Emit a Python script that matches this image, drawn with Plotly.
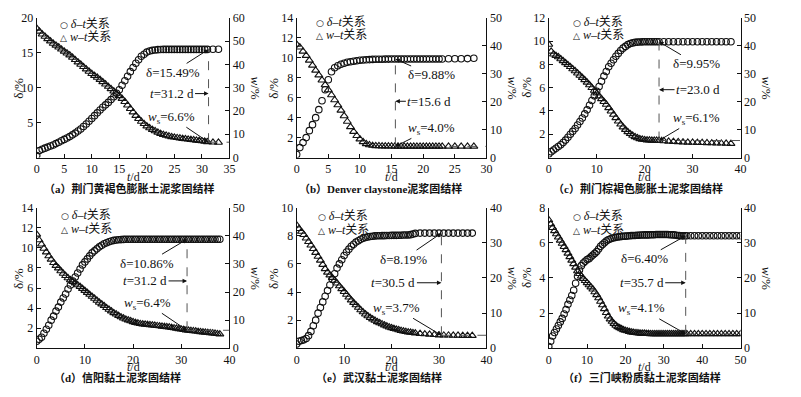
import plotly.graph_objects as go

# ---------------- data ----------------
T_A = [0, 0.5, 1, 1.5, 2, 2.5, 3, 3.5, 4, 4.5, 5, 5.5, 6, 6.5, 7, 7.5, 8, 8.5, 9, 9.5,
       10, 10.5, 11, 11.5, 12, 12.5, 13, 13.5, 14, 14.5, 15, 15.5, 16, 16.5, 17, 17.5, 18, 18.5, 19, 19.5,
       20, 20.5, 21, 21.5, 22, 22.5, 23, 23.5, 24, 24.5, 25, 25.5, 26, 26.5, 27, 27.5, 28, 28.5, 29, 29.5,
       30, 30.5, 31, 32, 33]
DELTA_A = [0.3, 1.0, 1.2, 1.35, 1.5, 1.65, 1.8, 2.0, 2.2, 2.4,
           2.6, 2.8, 3.0, 3.25, 3.5, 3.8, 4.1, 4.45, 4.8, 5.2,
           5.6, 6.0, 6.4, 6.8, 7.2, 7.55, 7.9, 8.3, 8.7, 9.2,
           9.7, 10.35, 11.0, 11.65, 12.3, 12.9, 13.5, 14.0, 14.5, 14.8,
           15.1, 15.25, 15.35, 15.4, 15.45, 15.47, 15.49, 15.49, 15.49, 15.49,
           15.49, 15.49, 15.49, 15.49, 15.49, 15.49, 15.49, 15.49, 15.49, 15.49,
           15.49, 15.49, 15.49, 15.5, 15.5]
W_A = [55.5, 54.2, 53.0, 52.0, 51.0, 50.0, 49.0, 48.2, 47.4, 46.5,
       45.6, 44.8, 44.0, 43.0, 42.0, 41.0, 40.0, 39.0, 38.0, 37.0,
       36.0, 35.2, 34.4, 33.5, 32.5, 31.5, 30.5, 29.5, 28.5, 27.5,
       26.5, 25.3, 24.0, 22.5, 21.0, 19.5, 18.0, 16.7, 15.5, 14.5,
       13.5, 12.7, 12.0, 11.4, 10.8, 10.3, 9.8, 9.5, 9.2, 8.9,
       8.7, 8.5, 8.3, 8.15, 8.0, 7.85, 7.7, 7.55, 7.4, 7.25,
       7.1, 6.95, 6.75, 6.55, 6.5]

T_B = [0, 0.5, 1, 1.5, 2, 2.5, 3, 3.5, 4, 4.5, 5, 5.5, 6, 6.5, 7, 7.5, 8, 8.5, 9, 9.5,
       10, 10.5, 11, 11.5, 12, 12.5, 13, 13.5, 14, 14.5, 15, 15.5, 16, 16.5, 17, 17.5, 18, 18.5, 19, 19.5,
       20, 20.5, 21, 21.5, 22, 22.5, 23, 24, 25, 26, 27, 28]
DELTA_B = [0.3, 1.0, 1.5, 2.0, 2.7, 3.3, 4.0, 4.8, 5.7, 6.8,
           7.8, 8.6, 9.0, 9.2, 9.35, 9.45, 9.55, 9.6, 9.65, 9.7,
           9.75, 9.78, 9.8, 9.82, 9.84, 9.85, 9.86, 9.86, 9.87, 9.87,
           9.88, 9.88, 9.88, 9.88, 9.88, 9.88, 9.88, 9.88, 9.88, 9.88,
           9.88, 9.88, 9.88, 9.88, 9.88, 9.88, 9.88, 9.9, 9.9, 9.9, 9.92, 9.95]
W_B = [40.5, 39.5, 38.0, 36.5, 34.8, 33.0, 31.2, 29.5, 27.7, 26.0,
       24.2, 22.4, 20.6, 18.8, 16.9, 14.9, 12.9, 11.0, 9.3, 7.8,
       6.6, 5.6, 4.9, 4.5, 4.3, 4.2, 4.15, 4.1, 4.1, 4.05,
       4.05, 4.0, 4.0, 4.0, 4.0, 4.0, 4.0, 4.0, 4.0, 4.0,
       4.0, 4.0, 4.0, 4.0, 4.0, 4.0, 4.0, 4.0, 4.0, 4.0, 4.0, 4.0]

T_C = [0, 0.5, 1, 1.5, 2, 2.5, 3, 3.5, 4, 4.5, 5, 5.5, 6, 6.5, 7, 7.5, 8, 8.5, 9, 9.5,
       10, 10.5, 11, 11.5, 12, 12.5, 13, 13.5, 14, 14.5, 15, 15.5, 16, 16.5, 17, 17.5, 18, 18.5, 19, 19.5,
       20, 20.5, 21, 21.5, 22, 22.5, 23,
       24, 25, 26, 27, 28, 29, 30, 31, 32, 33, 34, 35, 36, 37, 38]
DELTA_C = [0.3, 0.5, 0.65, 0.8, 0.95, 1.1, 1.3, 1.5, 1.75, 2.0,
           2.25, 2.5, 2.8, 3.1, 3.4, 3.75, 4.1, 4.5, 4.9, 5.3,
           5.7, 6.1, 6.55, 7.0, 7.4, 7.8, 8.1, 8.4, 8.7, 8.95,
           9.2, 9.4, 9.55, 9.7, 9.8, 9.85, 9.9, 9.92, 9.93, 9.94,
           9.95, 9.95, 9.95, 9.95, 9.95, 9.95, 9.95,
           9.95, 9.95, 9.95, 9.95, 9.95, 9.95, 9.95, 9.95, 9.95, 9.95, 9.95, 9.95, 9.95, 9.95, 9.95]
W_C = [40.5, 38.0, 37.0, 36.5, 36.0, 35.3, 34.6, 33.9, 33.2, 32.5,
       31.7, 31.0, 30.2, 29.4, 28.6, 27.8, 26.9, 26.0, 25.0, 24.0,
       23.0, 22.0, 21.0, 20.0, 19.0, 17.8, 16.6, 15.4, 14.2, 13.0,
       11.9, 10.9, 10.0, 9.2, 8.5, 7.9, 7.4, 7.0, 6.7, 6.5,
       6.35, 6.25, 6.2, 6.15, 6.12, 6.1, 6.1,
       5.95, 5.8, 5.7, 5.6, 5.5, 5.45, 5.4, 5.35, 5.3, 5.25, 5.2, 5.15, 5.1, 5.05, 5.0]

T_D = [0, 0.5, 1, 1.5, 2, 2.5, 3, 3.5, 4, 4.5, 5, 5.5, 6, 6.5, 7, 7.5, 8, 8.5, 9, 9.5,
       10, 10.5, 11, 11.5, 12, 12.5, 13, 13.5, 14, 14.5, 15, 15.5, 16, 16.5, 17, 17.5, 18, 18.5, 19, 19.5,
       20, 20.5, 21, 21.5, 22, 22.5, 23, 23.5, 24, 24.5, 25, 25.5, 26, 26.5, 27, 27.5, 28, 28.5, 29, 29.5,
       30, 30.5, 31, 31.5, 32, 32.5, 33, 33.5, 34, 34.5, 35, 35.5, 36, 36.5, 37, 37.5, 38]
DELTA_D = [0.7, 0.9, 1.1, 1.5, 1.9, 2.3, 2.8, 3.2, 3.7, 4.1,
           4.6, 5.0, 5.4, 5.9, 6.3, 6.7, 7.1, 7.5, 7.9, 8.3,
           8.6, 8.9, 9.2, 9.5, 9.7, 9.9, 10.1, 10.25, 10.4, 10.5,
           10.6, 10.68, 10.74, 10.78, 10.8, 10.82, 10.84, 10.85, 10.86, 10.86] + [10.86] * 37
W_D = [40.5, 38.5, 37.0, 35.5, 34.2, 32.8, 31.6, 30.4, 29.4, 28.5,
       27.5, 26.6, 25.8, 25.0, 24.3, 23.7, 23.1, 22.5, 21.9, 21.2,
       20.5, 19.8, 19.1, 18.4, 17.7, 17.0, 16.3, 15.7, 15.1, 14.4,
       13.8, 13.2, 12.6, 12.1, 11.6, 11.1, 10.7, 10.3, 10.0, 9.7,
       9.4, 9.1, 8.9, 8.7, 8.6, 8.5, 8.4, 8.3, 8.2, 8.1,
       8.0, 7.9, 7.8, 7.7, 7.6, 7.5, 7.35, 7.2, 7.05, 6.9,
       6.75, 6.6, 6.45, 6.35, 6.25, 6.15, 6.05, 5.95, 5.85, 5.75,
       5.65, 5.55, 5.45, 5.35, 5.25, 5.15, 5.05]

T_E = [0, 0.5, 1, 1.5, 2, 2.5, 3, 3.5, 4, 4.5, 5, 5.5, 6, 6.5, 7, 7.5, 8, 8.5, 9, 9.5,
       10, 10.5, 11, 11.5, 12, 12.5, 13, 13.5, 14, 14.5, 15, 15.5, 16, 16.5, 17, 17.5, 18, 18.5, 19, 19.5,
       20, 20.5, 21, 21.5, 22, 22.5, 23, 23.5, 24, 24.5, 25,
       26, 27, 28, 29, 30, 31, 32, 33, 34, 35, 36, 37]
DELTA_E = [0.3, 0.5, 0.55, 0.6, 0.7, 0.9, 1.2, 1.6, 2.0, 2.5,
           2.9, 3.3, 3.7, 4.1, 4.5, 4.9, 5.3, 5.7, 6.0, 6.3,
           6.6, 6.85, 7.05, 7.25, 7.4, 7.55, 7.65, 7.75, 7.82, 7.88,
           7.92, 7.95, 7.97, 7.99, 8.0, 8.0, 8.01, 8.01, 8.02, 8.02,
           8.03, 8.03, 8.03, 8.04, 8.04, 8.05, 8.05, 8.06, 8.08, 8.12,
           8.17] + [8.19] * 12
W_E = [35.0, 34.0, 33.2, 32.3, 31.3, 30.3, 29.3, 28.3, 27.2, 26.1,
       25.0, 23.8, 22.6, 21.6, 20.8, 20.1, 19.3, 18.5, 17.7, 16.9,
       16.1, 15.3, 14.5, 13.7, 13.0, 12.3, 11.6, 10.9, 10.3, 9.7,
       9.2, 8.7, 8.3, 7.9, 7.5, 7.2, 6.9, 6.6, 6.3, 6.0,
       5.8, 5.6, 5.4, 5.2, 5.0, 4.85, 4.7, 4.6, 4.5, 4.4,
       4.3,
       4.15, 4.05, 3.95, 3.85, 3.75, 3.7, 3.7, 3.65, 3.65, 3.6, 3.6, 3.6]

T_F = [0, 0.5, 1, 1.5, 2, 2.5, 3, 3.5, 4, 4.5, 5, 5.5, 6, 6.5, 7, 7.5, 8, 8.5, 9, 9.5,
       10, 10.5, 11, 11.5, 12, 12.5, 13, 13.5, 14, 14.5, 15, 15.5, 16, 16.5, 17, 17.5, 18, 18.5, 19, 19.5,
       20, 20.5, 21, 21.5, 22, 22.5, 23, 23.5, 24, 24.5, 25, 25.5, 26, 26.5, 27, 27.5, 28, 28.5, 29, 29.5,
       30, 30.5, 31, 31.5, 32, 32.5, 33, 33.5, 34, 34.5, 35, 35.5,
       36, 37, 38, 39, 40, 41, 42, 43, 44, 45, 46, 47, 48, 49, 50]
DELTA_F = [0.1, 0.4, 0.7, 0.9, 1.1, 1.3, 1.5, 1.7, 1.95, 2.2,
           2.5, 2.75, 3.0, 3.3, 3.7, 4.1, 4.45, 4.7, 4.85, 4.95,
           5.05, 5.1, 5.2, 5.3, 5.4, 5.5, 5.65, 5.8, 5.9, 6.0,
           6.1, 6.17, 6.22, 6.26, 6.29, 6.31, 6.33, 6.35, 6.36, 6.37,
           6.38, 6.39, 6.4, 6.41, 6.42, 6.42, 6.43, 6.43, 6.44, 6.44,
           6.45, 6.45, 6.45, 6.46, 6.46, 6.46, 6.47, 6.47, 6.47, 6.47,
           6.47, 6.47, 6.47, 6.46, 6.46, 6.45, 6.44, 6.42, 6.41, 6.4,
           6.4, 6.4] + [6.4] * 15
W_F = [36.5, 35.3, 34.3, 33.4, 32.5, 31.6, 30.7, 29.8, 28.9, 28.0,
       27.0, 26.0, 25.0, 24.0, 23.0, 22.0, 21.2, 20.5, 19.8, 19.2,
       18.6, 18.0, 17.4, 16.8, 16.0, 15.2, 14.3, 13.3, 12.3, 11.2,
       10.1, 9.1, 8.3, 7.6, 7.0, 6.5, 6.1, 5.8, 5.5, 5.25,
       5.05, 4.9, 4.75, 4.6, 4.5, 4.4, 4.35, 4.3, 4.25, 4.2,
       4.2, 4.15, 4.15, 4.1, 4.1, 4.1, 4.1, 4.1, 4.1, 4.1] + [4.1] * 12 + [4.1] * 15

T_LIST = [T_A, T_B, T_C, T_D, T_E, T_F]
DELTA_LIST = [DELTA_A, DELTA_B, DELTA_C, DELTA_D, DELTA_E, DELTA_F]
W_LIST = [W_A, W_B, W_C, W_D, W_E, W_F]

# axis scales
X_MAX = [35, 30, 40, 40, 40, 50]
X_DTICK = [5, 5, 10, 10, 10, 10]
D_MAX = [20, 14, 12, 14, 10, 8]
D_DTICK = [5, 2, 2, 2, 2, 2]
W_MAX = [60, 50, 50, 50, 40, 40]

# marked stable points (from the annotation texts)
T_MARK = [31.2, 15.6, 23.0, 31.2, 30.5, 35.7]
D_MARK = [15.49, 9.88, 9.95, 10.86, 8.19, 6.40]
WS_MARK = [6.6, 4.0, 6.1, 6.4, 3.7, 4.1]
T_LABELS = ["31.2", "15.6", "23.0", "31.2", "30.5", "35.7"]
D_LABELS = ["15.49", "9.88", "9.95", "10.86", "8.19", "6.40"]
WS_LABELS = ["6.6", "4.0", "6.1", "6.4", "3.7", "4.1"]

CAPTIONS = ["（a）荆门黄褐色膨胀土泥浆固结样",
            "（b）Denver claystone泥浆固结样",
            "（c）荆门棕褐色膨胀土泥浆固结样",
            "（d）信阳黏土泥浆固结样",
            "（e）武汉黏土泥浆固结样",
            "（f）三门峡粉质黏土泥浆固结样"]

for a, b, c in zip(T_LIST, DELTA_LIST, W_LIST):
    assert len(a) == len(b) == len(c), (len(a), len(b), len(c))

# ---------------- layout constants (window pixels) ----------------
WIN_W, WIN_H = 801, 397
PAGE_MARGIN = 8            # default body margin of the page
FIG_W, FIG_H = WIN_W - 2 * PAGE_MARGIN, WIN_H - 2 * PAGE_MARGIN
COL_PX = [(34, 229), (297, 489), (552, 746)]
ROW_PX = [(11, 156), (208, 354)]
CAP_X = [128, 382, 642, 116, 380, 646]
CAP_Y = [188, 384]
TTL_Y = [176, 373]
YTITLE_X = [16, 274, 530]
LEG_POS = [(56, 17), (315, 15), (575, 15), (57, 216), (317, 217), (575, 217)]
# annotation offsets (pixels, text centre relative to arrow tip)
D_OFF = [(-36, 23), (36, 16), (37, 22), (-40, 24), (-38, 26), (-41, 23)]
T_OFF = [-37, 34, 39, -42, -48, -44]
T_YFRAC = [0.458, 0.403, 0.486, 0.479, 0.466, 0.466]
W_OFF = [(-37, -25), (36, -18), (37, -22), (-40, -27), (-45, -27), (-44, -25)]

SERIF = "Liberation Serif"
CAPFONT = "Liberation Serif, Noto Sans CJK SC"
BLACK = "#111111"


def fx(p):
    return (p - PAGE_MARGIN) / FIG_W


def fy(p):
    return 1 - (p - PAGE_MARGIN) / FIG_H


fig = go.Figure()
layout = dict(
    width=FIG_W, height=FIG_H, autosize=False,
    margin=dict(l=0, r=0, t=0, b=0),
    paper_bgcolor="white", plot_bgcolor="white",
    showlegend=False,
    font=dict(family=SERIF, size=12, color=BLACK),
)
annotations = []
shapes = []

for k in range(6):
    i = k + 1
    r, c = divmod(k, 3)
    sfx = "" if i == 1 else str(i)
    xname = "x" + sfx
    ydn = "y" + sfx
    ywn = "y" + str(i + 6)
    x0p, x1p = COL_PX[c]
    y0p, y1p = ROW_PX[r]

    common = dict(showline=True, linecolor=BLACK, linewidth=1, ticks="inside", ticklen=4,
                  tickwidth=1, tickcolor=BLACK, showgrid=False, zeroline=False,
                  tickfont=dict(family=SERIF, size=12, color=BLACK), fixedrange=True)

    layout["xaxis" + sfx] = dict(domain=[fx(x0p), fx(x1p)], anchor=ydn, range=[0, X_MAX[k]],
                                 tickmode="linear", tick0=0, dtick=X_DTICK[k], **common)
    layout["yaxis" + sfx] = dict(domain=[fy(y1p), fy(y0p)], anchor=xname, range=[0, D_MAX[k]],
                                 tickmode="array",
                                 tickvals=list(range(D_DTICK[k], D_MAX[k] + 1, D_DTICK[k])),
                                 **common)
    layout["yaxis" + str(i + 6)] = dict(overlaying=ydn, side="right", anchor=xname,
                                        range=[0, W_MAX[k]], tickmode="linear", tick0=0, dtick=10,
                                        **common)

    fig.add_trace(go.Scatter(x=T_LIST[k], y=W_LIST[k], xaxis=xname, yaxis=ywn, mode="markers",
                             marker=dict(symbol="triangle-up-open", size=7, color=BLACK,
                                         line=dict(width=1.1, color=BLACK)),
                             hoverinfo="skip"))
    fig.add_trace(go.Scatter(x=T_LIST[k], y=DELTA_LIST[k], xaxis=xname, yaxis=ydn, mode="markers",
                             marker=dict(symbol="circle-open", size=6.5, color=BLACK,
                                         line=dict(width=1.1, color=BLACK)),
                             hoverinfo="skip"))

    # dashed guide lines
    shapes.append(dict(type="line", xref=xname, yref=ydn, x0=T_MARK[k], x1=T_MARK[k],
                       y0=WS_MARK[k] * D_MAX[k] / W_MAX[k], y1=D_MARK[k],
                       line=dict(color="#555555", width=1, dash="dash")))
    shapes.append(dict(type="line", xref=xname, yref=ywn, x0=T_MARK[k], x1=X_MAX[k],
                       y0=WS_MARK[k], y1=WS_MARK[k],
                       line=dict(color="#555555", width=1, dash="dash")))

    arrow = dict(showarrow=True, arrowhead=2, arrowsize=0.9, arrowwidth=1, arrowcolor=BLACK,
                 axref="pixel", ayref="pixel", font=dict(family=SERIF, size=13, color=BLACK))
    annotations.append(dict(x=T_MARK[k], y=D_MARK[k], xref=xname, yref=ydn,
                            ax=D_OFF[k][0], ay=D_OFF[k][1],
                            text="δ=" + D_LABELS[k] + "%", **arrow))
    annotations.append(dict(x=T_MARK[k], y=T_YFRAC[k], xref=xname, yref=ydn + " domain",
                            ax=T_OFF[k], ay=0,
                            text="<i>t</i>=" + T_LABELS[k] + " d", **arrow))
    annotations.append(dict(x=T_MARK[k], y=WS_MARK[k], xref=xname, yref=ywn,
                            ax=W_OFF[k][0], ay=W_OFF[k][1],
                            text="<i>w</i><sub>s</sub>=" + WS_LABELS[k] + "%", **arrow))

    # axis titles
    yc = (y0p + y1p) / 2
    annotations.append(dict(x=fx(YTITLE_X[c]), y=fy(yc), xref="paper", yref="paper", showarrow=False,
                            text="δ/%", textangle=-90, xanchor="center", yanchor="middle",
                            font=dict(family=SERIF, size=13, color=BLACK)))
    annotations.append(dict(x=fx(x1p + 26), y=fy(yc), xref="paper", yref="paper", showarrow=False,
                            text="<i>w</i>/%", textangle=90, xanchor="center", yanchor="middle",
                            font=dict(family=SERIF, size=13, color=BLACK)))
    annotations.append(dict(x=fx((x0p + x1p) / 2), y=fy(TTL_Y[r]), xref="paper", yref="paper",
                            showarrow=False, text="<i>t</i>/d", xanchor="center", yanchor="middle",
                            font=dict(family=SERIF, size=12, color=BLACK)))
    # caption
    annotations.append(dict(x=fx(CAP_X[k]), y=fy(CAP_Y[r]), xref="paper", yref="paper",
                            showarrow=False, text="<b>" + CAPTIONS[k] + "</b>",
                            xanchor="center", yanchor="middle",
                            font=dict(family=CAPFONT, size=11, color=BLACK)))
    # legend
    lx, ly = LEG_POS[k]
    sym = '<span style="font-family:DejaVu Sans;font-size:9px">{}</span> '
    annotations.append(dict(x=fx(lx), y=fy(ly), xref="paper", yref="paper", showarrow=False,
                            text=sym.format("○") + "<i>δ</i>–<i>t</i>关系",
                            xanchor="left", yanchor="middle",
                            font=dict(family=CAPFONT, size=12, color=BLACK)))
    annotations.append(dict(x=fx(lx), y=fy(ly + 14), xref="paper", yref="paper", showarrow=False,
                            text=sym.format("△") + "<i>w</i>–<i>t</i>关系",
                            xanchor="left", yanchor="middle",
                            font=dict(family=CAPFONT, size=12, color=BLACK)))

layout["annotations"] = annotations
layout["shapes"] = shapes
fig.update_layout(**layout)
fig.write_html("out.html")
